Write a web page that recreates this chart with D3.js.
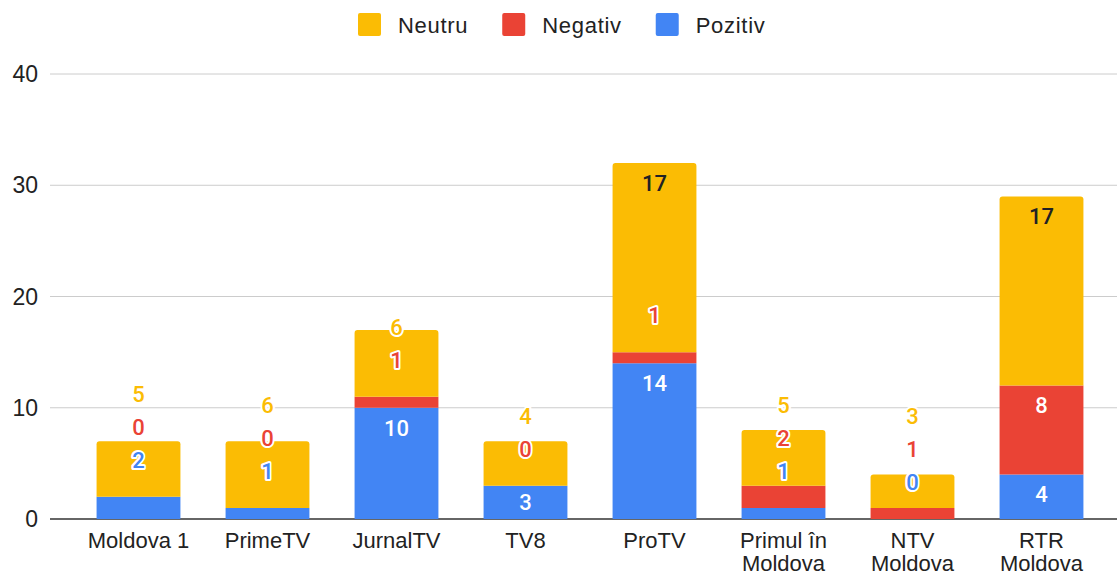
<!DOCTYPE html>
<html>
<head>
<meta charset="utf-8">
<script src="https://cdn.jsdelivr.net/npm/d3@7"></script>
<style>
  body { margin: 0; background: #fff; }
  #chart text { font-family: "Liberation Sans", Arial, sans-serif; }
</style>
</head>
<body>
<div id="chart"></div>
<script>
var categories = ["Moldova 1", "PrimeTV", "JurnalTV", "TV8", "ProTV", "Primul în Moldova", "NTV Moldova", "RTR Moldova"];
var pozitiv = [2, 1, 10, 3, 14, 1, 0, 4];
var negativ = [0, 0, 1, 0, 1, 2, 1, 8];
var neutru  = [5, 6, 6, 4, 17, 5, 3, 17];
var yTicks = [0, 10, 20, 30, 40];

// stacked bottom -> top
var seriesNames = ["Pozitiv", "Negativ", "Neutru"];
var seriesColors = {"Pozitiv": "#4285F4", "Negativ": "#EA4335", "Neutru": "#FBBC04"};
var legendOrder = ["Neutru", "Negativ", "Pozitiv"];

var width = 1119, height = 577;
var margin = {top: 74, right: 2, bottom: 58, left: 50};

var data = categories.map(function (c, i) {
    return {name: c, Pozitiv: pozitiv[i], Negativ: negativ[i], Neutru: neutru[i]};
});

var svg = d3.select("#chart").append("svg")
    .attr("width", width)
    .attr("height", height);

var y = d3.scaleLinear()
    .domain([0, 40])
    .range([height - margin.bottom, margin.top]);

var x = d3.scaleBand()
    .domain(categories)
    .range([74, 1106])
    .paddingInner(0.35)
    .paddingOuter(0.175);

// grid
svg.append("g")
    .selectAll("line")
    .data(yTicks)
    .enter().append("line")
    .attr("x1", margin.left)
    .attr("x2", width - margin.right)
    .attr("y1", function (d) { return y(d); })
    .attr("y2", function (d) { return y(d); })
    .attr("stroke", function (d) { return d == 0 ? "#333" : "#ccc"; })
    .attr("stroke-width", function (d) { return d == 0 ? 1.3 : 1; });

// y labels
svg.append("g")
    .selectAll("text")
    .data(yTicks)
    .enter().append("text")
    .attr("x", 38)
    .attr("y", function (d) { return y(d); })
    .attr("dy", "0.35em")
    .attr("text-anchor", "end")
    .style("font-size", "23px")
    .style("fill", "#222")
    .text(function (d) { return d; });

var stack = d3.stack().keys(seriesNames);
var layers = stack(data);

function roundTop(x0, y0, w, h, r) {
    r = Math.min(r, h);
    return "M" + x0 + "," + (y0 + h) +
        "V" + (y0 + r) +
        "Q" + x0 + "," + y0 + " " + (x0 + r) + "," + y0 +
        "H" + (x0 + w - r) +
        "Q" + (x0 + w) + "," + y0 + " " + (x0 + w) + "," + (y0 + r) +
        "V" + (y0 + h) + "Z";
}

var bars = svg.append("g");
layers.forEach(function (layer, li) {
    bars.selectAll(".bar" + li)
        .data(layer)
        .enter().append("path")
        .attr("fill", seriesColors[layer.key])
        .attr("d", function (d) {
            var top = y(d[1]), bot = y(d[0]);
            var isTop = li == layers.length - 1;
            return roundTop(x(d.data.name), top, x.bandwidth(), bot - top, isTop ? 3 : 0);
        });
});

// data labels, stacked upward when they don't fit
var labels = [];
data.forEach(function (d, i) {
    var prev = Infinity;
    layers.forEach(function (layer) {
        var s = layer[i];
        var top = y(s[1]), bot = y(s[0]);
        var h = bot - top;
        var fits = h >= 30;
        var want = fits ? top + Math.min(20, h / 2) : top - 37;
        var ly = Math.min(want, prev - 33);
        prev = ly;
        var inside = ly - 9 >= top && ly + 9 <= bot;
        labels.push({x: x(d.name) + x.bandwidth() / 2, y: ly, v: s.data[layer.key], key: layer.key, inside: inside});
    });
});

svg.append("g")
    .selectAll("text")
    .data(labels)
    .enter().append("text")
    .attr("x", function (d) { return d.x; })
    .attr("y", function (d) { return d.y; })
    .attr("dy", "0.36em")
    .attr("text-anchor", "middle")
    .style("font-family", "Roboto, sans-serif")
    .style("font-size", "22px")
    .style("font-weight", 500)
    .style("paint-order", "stroke")
    .style("stroke", function (d) { return d.inside ? "none" : "#fff"; })
    .style("stroke-width", 4)
    .style("stroke-linejoin", "round")
    .style("fill", function (d) {
        if (!d.inside) return seriesColors[d.key];
        return d.key == "Neutru" ? "#202124" : "#fff";
    })
    .text(function (d) { return d.v; });

// x labels, wrapped
var xl = svg.append("g")
    .selectAll("text")
    .data(categories)
    .enter().append("text")
    .attr("text-anchor", "middle")
    .attr("x", function (d) { return x(d) + x.bandwidth() / 2; })
    .attr("y", 548)
    .style("font-size", "22px")
    .style("fill", "#222");

xl.each(function (d) {
    var t = d3.select(this);
    var cx = x(d) + x.bandwidth() / 2;
    var words = d.split(" ");
    var lines = [], line = [];
    words.forEach(function (w) {
        line.push(w);
        t.text(line.join(" "));
        if (textLen(t) > 118 && line.length > 1) {
            line.pop();
            lines.push(line.join(" "));
            line = [w];
        }
    });
    lines.push(line.join(" "));
    t.text(null);
    lines.forEach(function (l, k) {
        t.append("tspan").attr("x", cx).attr("dy", k == 0 ? 0 : 23).text(l);
    });
});

function textLen(sel) {
    return sel.node().getComputedTextLength();
}

// legend
var lg = svg.append("g").attr("transform", "translate(358,13)");
var lx = 0;
legendOrder.forEach(function (k) {
    lg.append("rect")
        .attr("x", lx).attr("y", 0)
        .attr("width", 23).attr("height", 23)
        .attr("rx", 2)
        .attr("fill", seriesColors[k]);
    var t = lg.append("text")
        .attr("x", lx + 40).attr("y", 12)
        .attr("dy", "0.35em")
        .style("font-size", "22px")
        .style("letter-spacing", "0.7px")
        .style("fill", "#222")
        .text(k);
    lx += 40 + t.node().getComputedTextLength() + 34;
});
</script>
</body>
</html>
